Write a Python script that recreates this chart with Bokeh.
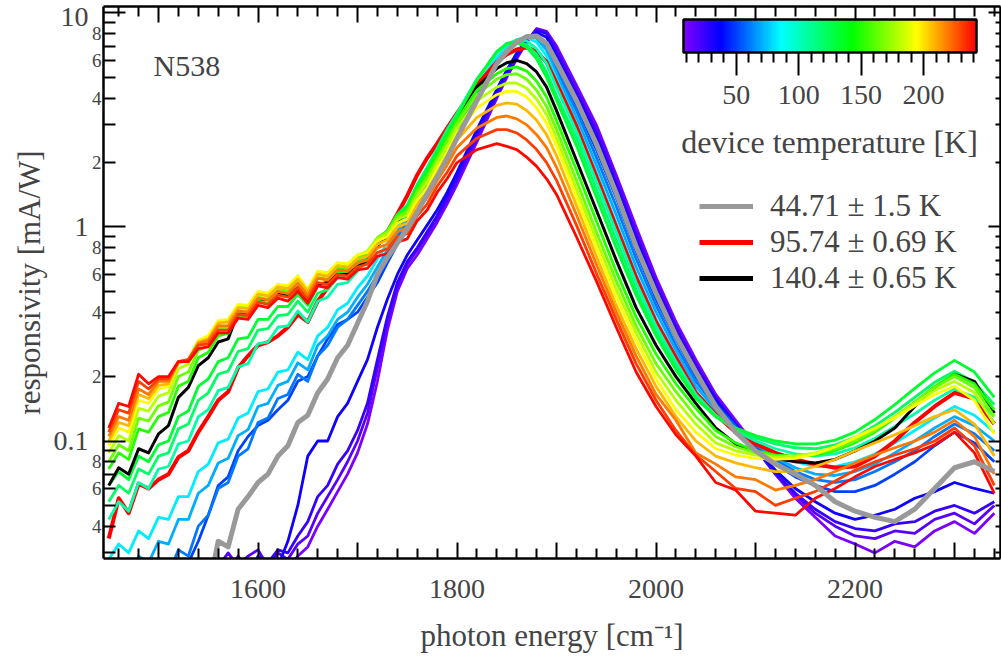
import math
from bokeh.plotting import figure
from bokeh.models import (Range1d, LinearAxis, LogAxis, FixedTicker, CustomJSTickFormatter,
                          ColorBar, LinearColorMapper, Legend, LegendItem, Label)
from bokeh.embed import file_html
from bokeh.resources import INLINE

# photon energy grid [cm^-1]
wavenumber = [1450, 1460, 1470, 1480, 1490, 1500, 1510, 1520, 1530, 1540,
              1550, 1560, 1570, 1580, 1590, 1600, 1610, 1620, 1630, 1640,
              1650, 1660, 1670, 1680, 1690, 1700, 1710, 1720, 1730, 1740,
              1750, 1760, 1770, 1780, 1790,
              1800, 1820, 1840, 1850, 1860, 1870, 1880, 1890, 1900,
              1920, 1940, 1960, 1980, 2000, 2020, 2040,
              2060, 2080, 2100, 2120, 2140, 2160, 2180, 2200, 2220, 2240,
              2260, 2280, 2300, 2320, 2340]

# responsivity [mA/W] (0.02 = below the visible range)
resp_9K = [0.02, 0.02, 0.02, 0.02, 0.02, 0.02, 0.02, 0.02, 0.02, 0.02, 0.02, 0.02,
           0.024, 0.029, 0.025, 0.027, 0.024, 0.026, 0.025, 0.029, 0.032, 0.04, 0.048,
           0.058, 0.07, 0.088, 0.12, 0.19, 0.33, 0.5, 0.64, 0.74, 0.88, 1.05, 1.28,
           1.58, 2.5, 4.0, 5.0, 6.1, 7.3, 8.45, 8.2, 7.0,
           4.6, 3.0, 1.75, 1.0, 0.58, 0.36, 0.24,
           0.165, 0.125, 0.095, 0.07, 0.054, 0.044, 0.036, 0.033, 0.03, 0.034, 0.032,
           0.038, 0.042, 0.037, 0.046]
resp_17K = [0.02, 0.02, 0.02, 0.02, 0.02, 0.02, 0.02, 0.02, 0.02, 0.02, 0.02,
            0.026, 0.03, 0.026, 0.029, 0.031, 0.026, 0.03, 0.028, 0.033, 0.036, 0.046,
            0.055, 0.066, 0.08, 0.1, 0.135, 0.22, 0.36, 0.53, 0.67, 0.78, 0.92, 1.1, 1.33,
            1.64, 2.6, 4.1, 5.1, 6.2, 7.4, 8.4, 8.1, 6.8,
            4.4, 2.85, 1.67, 0.95, 0.555, 0.345, 0.23,
            0.16, 0.12, 0.092, 0.07, 0.056, 0.046, 0.04, 0.036, 0.035, 0.038, 0.037,
            0.043, 0.046, 0.041, 0.05]
resp_25K = [0.02, 0.02, 0.02, 0.02, 0.02, 0.02, 0.02, 0.02, 0.02, 0.02, 0.02, 0.02, 0.02,
            0.027, 0.024, 0.029, 0.027, 0.031, 0.03, 0.036, 0.042, 0.055, 0.062, 0.078,
            0.09, 0.112, 0.15, 0.24, 0.38, 0.55, 0.69, 0.8, 0.95, 1.13, 1.38,
            1.7, 2.7, 4.2, 5.2, 6.3, 7.4, 8.3, 8.0, 6.5,
            4.25, 2.75, 1.6, 0.91, 0.53, 0.335, 0.225,
            0.158, 0.12, 0.092, 0.071, 0.057, 0.048, 0.042, 0.039, 0.038, 0.041, 0.042,
            0.047, 0.05, 0.046, 0.052]
resp_34K = [0.02, 0.02, 0.02, 0.02, 0.02, 0.02, 0.02, 0.02, 0.02, 0.02, 0.02, 0.02,
            0.02, 0.02, 0.02, 0.02, 0.02,
            0.026, 0.034, 0.05, 0.085, 0.1, 0.1, 0.13, 0.15, 0.19, 0.24, 0.34, 0.46,
            0.6, 0.74, 0.87, 1.02, 1.2, 1.45,
            1.8, 2.85, 4.4, 5.4, 6.5, 7.5, 8.1, 7.7, 6.2,
            4.05, 2.6, 1.52, 0.86, 0.51, 0.32, 0.215,
            0.155, 0.118, 0.092, 0.073, 0.06, 0.052, 0.046, 0.043, 0.045, 0.048, 0.054,
            0.058, 0.064, 0.06, 0.057]
resp_44K = [0.02, 0.02, 0.02, 0.02, 0.02, 0.02, 0.02, 0.02, 0.02, 0.02, 0.02,
            0.034, 0.032, 0.048, 0.055, 0.064, 0.07, 0.085, 0.095, 0.122, 0.132, 0.168,
            0.195, 0.245, 0.28, 0.355, 0.45, 0.6, 0.72, 0.84, 0.98, 1.17, 1.43, 1.72, 2.1,
            2.6, 3.9, 5.8, 6.6, 7.3, 7.75, 7.8, 7.2, 5.9,
            3.9, 2.45, 1.44, 0.81, 0.49, 0.31, 0.21,
            0.145, 0.11, 0.09, 0.078, 0.07, 0.062, 0.052, 0.047, 0.044, 0.042, 0.048,
            0.06, 0.075, 0.08, 0.072]
resp_50K = [0.02, 0.02, 0.02, 0.02, 0.02, 0.02, 0.02,
            0.024, 0.027, 0.034, 0.045, 0.062, 0.068, 0.09, 0.105, 0.118, 0.125, 0.14,
            0.155, 0.19, 0.2, 0.25, 0.3, 0.35, 0.37, 0.4, 0.47, 0.55, 0.68, 0.83, 1.0,
            1.2, 1.45, 1.75, 2.15,
            2.7, 4.0, 5.8, 6.6, 7.3, 7.8, 7.9, 7.1, 5.6,
            3.7, 2.3, 1.37, 0.77, 0.46, 0.3, 0.2,
            0.15, 0.118, 0.095, 0.078, 0.068, 0.062, 0.058, 0.058, 0.062, 0.07, 0.08,
            0.095, 0.11, 0.098, 0.08]
resp_60K = [0.02, 0.02, 0.02, 0.02, 0.02,
            0.022, 0.024, 0.031, 0.029, 0.04, 0.045, 0.06, 0.064, 0.085, 0.092, 0.122,
            0.128, 0.158, 0.165, 0.205, 0.19, 0.25, 0.28, 0.34, 0.37, 0.43, 0.5, 0.6,
            0.73, 0.9, 1.06, 1.3, 1.58, 1.92, 2.35,
            2.9, 4.2, 5.9, 6.7, 7.3, 7.8, 7.7, 6.9, 5.4,
            3.5, 2.12, 1.25, 0.71, 0.43, 0.28, 0.19,
            0.145, 0.116, 0.096, 0.082, 0.072, 0.066, 0.064, 0.066, 0.072, 0.08, 0.09,
            0.105, 0.12, 0.108, 0.09]
resp_70K = [0.02, 0.024, 0.022, 0.029, 0.027, 0.034, 0.033, 0.043, 0.043, 0.057,
            0.062, 0.079, 0.083, 0.106, 0.113, 0.145, 0.15, 0.182, 0.19, 0.232,
            0.215, 0.28, 0.31, 0.37, 0.4, 0.47, 0.54, 0.65, 0.78, 0.95,
            1.12, 1.37, 1.66, 2.03, 2.5,
            3.05, 4.4, 6.0, 6.8, 7.4, 7.8, 7.6, 6.7, 5.2,
            3.25, 1.95, 1.14, 0.65, 0.4, 0.265, 0.18,
            0.14, 0.114, 0.097, 0.084, 0.075, 0.07, 0.069, 0.072, 0.078, 0.088, 0.1,
            0.115, 0.13, 0.118, 0.1]
resp_82K = [0.028, 0.033, 0.03, 0.038, 0.035, 0.044, 0.043, 0.055, 0.055, 0.072,
            0.078, 0.098, 0.102, 0.128, 0.135, 0.17, 0.175, 0.21, 0.215, 0.26,
            0.24, 0.31, 0.34, 0.41, 0.44, 0.52, 0.59, 0.71, 0.84, 1.01,
            1.18, 1.45, 1.75, 2.15, 2.65,
            3.2, 4.6, 6.2, 6.9, 7.5, 7.7, 7.3, 6.3, 4.9,
            3.05, 1.8, 1.04, 0.6, 0.37, 0.25, 0.17,
            0.135, 0.112, 0.097, 0.087, 0.08, 0.076, 0.076, 0.08, 0.087, 0.098, 0.112,
            0.128, 0.145, 0.132, 0.11]
resp_96K = [0.035, 0.054, 0.046, 0.063, 0.06, 0.066, 0.07, 0.084, 0.09, 0.11,
            0.13, 0.155, 0.17, 0.22, 0.25, 0.28, 0.29, 0.31, 0.34, 0.39,
            0.36, 0.45, 0.52, 0.6, 0.64, 0.66, 0.72, 0.85, 0.95, 1.15,
            1.4, 1.75, 2.1, 2.45, 2.9,
            3.4, 4.6, 5.9, 6.4, 6.75, 6.9, 6.6, 5.9, 4.7,
            2.95, 1.72, 1.0, 0.58, 0.36, 0.245, 0.168,
            0.133, 0.11, 0.097, 0.088, 0.082, 0.078, 0.075, 0.076, 0.085, 0.1, 0.122,
            0.145, 0.168, 0.158, 0.12]
resp_105K = [0.043, 0.052, 0.047, 0.064, 0.06, 0.074, 0.076, 0.097, 0.1, 0.13,
             0.14, 0.172, 0.178, 0.222, 0.23, 0.285, 0.29, 0.34, 0.345, 0.405,
             0.36, 0.45, 0.47, 0.54, 0.55, 0.62, 0.7, 0.83, 0.95, 1.14,
             1.27, 1.58, 1.9, 2.33, 2.85,
             3.4, 4.9, 6.5, 7.1, 7.5, 7.4, 6.8, 5.8, 4.5,
             2.8, 1.64, 0.95, 0.55, 0.345, 0.235, 0.165,
             0.132, 0.112, 0.1, 0.092, 0.087, 0.085, 0.087, 0.093, 0.103, 0.117, 0.134,
             0.155, 0.175, 0.16, 0.13]
resp_120K = [0.052, 0.062, 0.057, 0.074, 0.07, 0.085, 0.088, 0.114, 0.12, 0.155,
             0.168, 0.205, 0.212, 0.262, 0.27, 0.33, 0.335, 0.385, 0.39, 0.45,
             0.4, 0.49, 0.51, 0.58, 0.59, 0.66, 0.73, 0.86, 0.96, 1.14,
             1.26, 1.57, 1.88, 2.3, 2.8,
             3.35, 4.9, 6.6, 7.2, 7.4, 7.1, 6.4, 5.3, 4.1,
             2.6, 1.5, 0.87, 0.51, 0.325, 0.225, 0.16,
             0.13, 0.113, 0.103, 0.097, 0.093, 0.092, 0.096, 0.104, 0.118, 0.136, 0.16,
             0.188, 0.212, 0.188, 0.148]
resp_132K = [0.062, 0.072, 0.066, 0.085, 0.08, 0.096, 0.1, 0.13, 0.138, 0.18,
             0.195, 0.235, 0.245, 0.3, 0.305, 0.37, 0.37, 0.425, 0.425, 0.485,
             0.43, 0.53, 0.54, 0.61, 0.62, 0.69, 0.75, 0.87, 0.96, 1.13,
             1.24, 1.55, 1.85, 2.25, 2.75,
             3.3, 4.85, 6.6, 7.2, 7.25, 6.9, 6.1, 5.0, 3.9,
             2.4, 1.38, 0.8, 0.48, 0.31, 0.215, 0.158,
             0.13, 0.115, 0.106, 0.1, 0.097, 0.097, 0.101, 0.11, 0.126, 0.148, 0.176,
             0.208, 0.238, 0.21, 0.16]
resp_140K = [0.062, 0.075, 0.07, 0.092, 0.088, 0.108, 0.118, 0.16, 0.178, 0.225,
             0.245, 0.29, 0.3, 0.4, 0.4, 0.45, 0.46, 0.49, 0.48, 0.52,
             0.45, 0.54, 0.55, 0.6, 0.6, 0.65, 0.7, 0.82, 0.9, 1.07,
             1.16, 1.45, 1.72, 2.1, 2.55,
             3.1, 4.5, 5.5, 5.85, 6.0, 5.8, 5.3, 4.5, 3.5,
             2.05, 1.2, 0.7, 0.42, 0.28, 0.2, 0.15,
             0.115, 0.097, 0.088, 0.083, 0.08, 0.079, 0.082, 0.09, 0.1, 0.115, 0.145,
             0.178, 0.205, 0.19, 0.135]
resp_150K = [0.074, 0.088, 0.082, 0.114, 0.11, 0.13, 0.136, 0.18, 0.19, 0.245,
             0.26, 0.31, 0.318, 0.385, 0.38, 0.45, 0.44, 0.5, 0.49, 0.55,
             0.47, 0.58, 0.57, 0.64, 0.635, 0.71, 0.76, 0.89, 0.96, 1.13,
             1.21, 1.5, 1.75, 2.15, 2.6,
             3.15, 4.35, 5.2, 5.5, 5.6, 5.35, 4.8, 4.05, 3.15,
             1.85, 1.07, 0.62, 0.38, 0.255, 0.185, 0.142,
             0.112, 0.098, 0.09, 0.086, 0.085, 0.086, 0.09, 0.098, 0.11, 0.128, 0.152,
             0.18, 0.205, 0.185, 0.14]
resp_165K = [0.08, 0.096, 0.09, 0.128, 0.124, 0.146, 0.152, 0.2, 0.21, 0.265,
             0.28, 0.335, 0.34, 0.405, 0.4, 0.47, 0.46, 0.515, 0.505, 0.57,
             0.49, 0.6, 0.59, 0.66, 0.655, 0.73, 0.77, 0.89, 0.95, 1.11,
             1.18, 1.46, 1.7, 2.08, 2.5,
             3.05, 4.15, 4.9, 5.15, 5.2, 4.9, 4.35, 3.65, 2.85,
             1.65, 0.95, 0.56, 0.345, 0.23, 0.17, 0.13,
             0.105, 0.094, 0.088, 0.085, 0.085, 0.087, 0.092, 0.1, 0.112, 0.13, 0.152,
             0.178, 0.2, 0.178, 0.13]
resp_180K = [0.088, 0.106, 0.1, 0.142, 0.138, 0.162, 0.168, 0.218, 0.228, 0.285,
             0.3, 0.355, 0.36, 0.425, 0.42, 0.49, 0.48, 0.535, 0.525, 0.59,
             0.51, 0.62, 0.61, 0.68, 0.67, 0.74, 0.77, 0.88, 0.93, 1.08,
             1.14, 1.4, 1.62, 1.99, 2.38,
             2.9, 3.9, 4.5, 4.7, 4.7, 4.45, 3.95, 3.35, 2.6,
             1.5, 0.87, 0.51, 0.32, 0.21, 0.155, 0.12,
             0.098, 0.09, 0.086, 0.084, 0.085, 0.088, 0.094, 0.103, 0.114, 0.13, 0.15,
             0.172, 0.19, 0.168, 0.12]
resp_195K = [0.095, 0.115, 0.11, 0.155, 0.15, 0.175, 0.18, 0.23, 0.24, 0.295,
             0.31, 0.365, 0.37, 0.435, 0.43, 0.5, 0.49, 0.54, 0.53, 0.59,
             0.51, 0.62, 0.61, 0.68, 0.67, 0.74, 0.76, 0.86, 0.9, 1.04,
             1.09, 1.33, 1.53, 1.88, 2.25,
             2.75, 3.6, 4.15, 4.3, 4.3, 4.05, 3.6, 3.05, 2.4,
             1.38, 0.8, 0.47, 0.295, 0.195, 0.14, 0.11,
             0.092, 0.086, 0.083, 0.082, 0.083, 0.087, 0.094, 0.104, 0.115, 0.128, 0.146,
             0.165, 0.18, 0.155, 0.108]
resp_208K = [0.1, 0.122, 0.118, 0.165, 0.158, 0.182, 0.185, 0.232, 0.24, 0.29,
             0.3, 0.355, 0.36, 0.42, 0.415, 0.485, 0.475, 0.525, 0.515, 0.57,
             0.5, 0.6, 0.59, 0.66, 0.645, 0.71, 0.73, 0.83, 0.87, 1.0,
             1.04, 1.27, 1.45, 1.77, 2.1,
             2.55, 3.25, 3.7, 3.8, 3.75, 3.5, 3.15, 2.7, 2.15,
             1.26, 0.73, 0.43, 0.27, 0.18, 0.13, 0.1,
             0.085, 0.079, 0.075, 0.072, 0.072, 0.076, 0.082, 0.09, 0.098, 0.107, 0.118,
             0.13, 0.14, 0.12, 0.085]
resp_220K = [0.105, 0.13, 0.125, 0.175, 0.165, 0.19, 0.19, 0.235, 0.24, 0.285,
             0.295, 0.345, 0.345, 0.405, 0.4, 0.465, 0.455, 0.5, 0.49, 0.545,
             0.48, 0.575, 0.565, 0.63, 0.62, 0.68, 0.7, 0.8, 0.83, 0.95,
             0.99, 1.2, 1.37, 1.65, 1.95,
             2.35, 2.9, 3.25, 3.3, 3.2, 3.0, 2.7, 2.35, 1.9,
             1.14, 0.67, 0.4, 0.25, 0.165, 0.125, 0.088,
             0.078, 0.068, 0.066, 0.059, 0.062, 0.066, 0.072, 0.079, 0.086, 0.093, 0.1,
             0.11, 0.125, 0.105, 0.07]
resp_231K = [0.11, 0.14, 0.135, 0.19, 0.175, 0.195, 0.195, 0.235, 0.24, 0.28,
             0.285, 0.33, 0.33, 0.39, 0.385, 0.445, 0.435, 0.48, 0.47, 0.52,
             0.46, 0.55, 0.54, 0.6, 0.59, 0.65, 0.67, 0.76, 0.79, 0.9,
             0.93, 1.13, 1.28, 1.55, 1.8,
             2.15, 2.6, 2.85, 2.85, 2.75, 2.55, 2.3, 2.0, 1.65,
             1.02, 0.61, 0.37, 0.23, 0.155, 0.112, 0.086,
             0.072, 0.06, 0.058, 0.05, 0.054, 0.058, 0.065, 0.073, 0.08, 0.086, 0.092,
             0.1, 0.115, 0.095, 0.062]
resp_241K = [0.115, 0.15, 0.145, 0.205, 0.185, 0.2, 0.2, 0.235, 0.235, 0.27,
             0.275, 0.32, 0.32, 0.375, 0.37, 0.43, 0.42, 0.465, 0.45, 0.5,
             0.44, 0.53, 0.52, 0.58, 0.57, 0.63, 0.64, 0.73, 0.75, 0.85,
             0.88, 1.07, 1.2, 1.45, 1.68,
             2.0, 2.3, 2.45, 2.38, 2.3, 2.12, 1.92, 1.68, 1.42,
             0.9, 0.56, 0.34, 0.21, 0.145, 0.107, 0.085,
             0.064, 0.059, 0.047, 0.046, 0.045, 0.054, 0.06, 0.068, 0.076, 0.082, 0.088,
             0.096, 0.11, 0.088, 0.057]

# rainbow-coloured sweep (temperature [K], spectrum)
sweep_temperatures = [9, 17, 25, 34, 50, 60, 70, 82, 105, 120, 132, 150, 165, 180, 195, 208, 220, 231, 241]
sweep_spectra = [resp_9K, resp_17K, resp_25K, resp_34K, resp_50K, resp_60K, resp_70K, resp_82K,
                 resp_105K, resp_120K, resp_132K, resp_150K, resp_165K, resp_180K, resp_195K,
                 resp_208K, resp_220K, resp_231K, resp_241K]

# highlighted measurements
highlight_labels = ["44.71 \u00b1 1.5 K", "95.74 \u00b1 0.69 K", "140.4 \u00b1 0.65 K"]
highlight_temperatures = [44.71, 95.74, 140.4]
highlight_spectra = [resp_44K, resp_96K, resp_140K]
highlight_colors = ["#999999", "#ff0000", "#000000"]
highlight_widths = [5, 4, 3]

# axis ticks
x_major = [1500, 1600, 1700, 1800, 1900, 2000, 2100, 2200, 2300]
x_minor = [1460, 1480, 1520, 1540, 1560, 1580, 1620, 1640, 1660, 1680, 1720, 1740, 1760,
           1780, 1820, 1840, 1860, 1880, 1920, 1940, 1960, 1980, 2020, 2040, 2060, 2080,
           2120, 2140, 2160, 2180, 2220, 2240, 2260, 2280, 2320, 2340]
y_decades = [0.1, 1, 10]
y_decade_label_at = [0.1, 1, 9.55]      # the "10" sits just below the frame top
y_minor_labelled = [0.04, 0.06, 0.08, 0.2, 0.4, 0.6, 0.8, 2, 4, 6, 8]
y_minor = [0.03, 0.04, 0.05, 0.06, 0.07, 0.08, 0.09, 0.2, 0.3, 0.4, 0.5, 0.6, 0.7,
           0.8, 0.9, 2, 3, 4, 5, 6, 7, 8, 9]
colorbar_ticks = [50, 100, 150, 200]
colorbar_minor = [10, 20, 30, 40, 60, 70, 80, 90, 110, 120, 130, 140, 160, 170, 180, 190,
                  210, 220, 230, 240]
T_LOW, T_HIGH = 7.8, 242.4

for s in sweep_spectra + highlight_spectra:
    assert len(s) == len(wavenumber), len(s)

STOPS = [(0.0, (128, 0, 255)), (0.126, (0, 0, 255)), (0.331, (0, 255, 255)),
         (0.577, (0, 255, 0)), (0.797, (255, 255, 0)), (1.0, (255, 0, 0))]


def rainbow(f):
    f = min(max(f, 0.0), 1.0)
    for (f0, c0), (f1, c1) in zip(STOPS[:-1], STOPS[1:]):
        if f <= f1:
            t = (f - f0) / (f1 - f0)
            r, g, b = (round(a + (bb - a) * t) for a, bb in zip(c0, c1))
            return "#%02x%02x%02x" % (r, g, b)
    return "#ff0000"


def t_color(T):
    return rainbow((T - T_LOW) / (T_HIGH - T_LOW))


palette = [rainbow(i / 255) for i in range(256)]

FONT = "Liberation Serif"
X0, X1 = 1444.7, 2346.2
Y0, Y1 = 0.02825, 10.72
PX_PER_X = 897 / (X1 - X0)
PX_PER_DEC = 552 / (math.log10(Y1) - math.log10(Y0))


def sx(px):   # page x -> data x
    return X0 + (px - 103) / PX_PER_X


def sy(py):   # page y -> data y
    return 10 ** (math.log10(Y1) - (py - 6) / PX_PER_DEC)


p = figure(frame_width=897, frame_height=552, x_range=Range1d(X0, X1),
           y_range=Range1d(Y0, Y1), y_axis_type="log",
           output_backend="svg", toolbar_location=None,
           min_border_left=103, min_border_right=1, min_border_top=6, min_border_bottom=99,
           background_fill_color="white", border_fill_color="white")
p.outline_line_color = None
p.xgrid.visible = False
p.ygrid.visible = False

# draw the sweep in order of temperature, the highlighted red/black among them, grey on top
order = [(T, s, t_color(T), 2.8) for T, s in zip(sweep_temperatures, sweep_spectra)]
order += [(highlight_temperatures[1], highlight_spectra[1], highlight_colors[1], highlight_widths[1]),
          (highlight_temperatures[2], highlight_spectra[2], highlight_colors[2], highlight_widths[2])]
order.sort(key=lambda r: r[0])
for T, s, c, w in order:
    p.line(wavenumber, s, line_color=c, line_width=w, line_join="round")
p.line(wavenumber, highlight_spectra[0], line_color=highlight_colors[0],
       line_width=highlight_widths[0], line_join="round")

blank = CustomJSTickFormatter(code="return '';")

# ---- x axes
xa = p.xaxis[0]
xa.ticker = FixedTicker(ticks=x_major, minor_ticks=x_minor)
xa.formatter = CustomJSTickFormatter(
    code="return (Math.round(tick) % 200 === 0) ? String(Math.round(tick)) : '';")
xa.major_label_standoff = 21
xa.major_label_text_font = FONT
xa.major_label_text_font_size = "28px"
xa.axis_label = "photon energy [cm\u207b\u00b9]"
xa.axis_label_text_font = FONT
xa.axis_label_text_font_size = "31px"
xa.axis_label_text_font_style = "normal"
xa.axis_label_standoff = 17

top = LinearAxis(ticker=FixedTicker(ticks=x_major, minor_ticks=x_minor), formatter=blank,
                 major_label_standoff=0, major_label_text_font_size="0px")
p.add_layout(top, "above")

# ---- y axes: inner one draws the ticks, two outer ones carry the labels
ya = p.yaxis[0]
ya.ticker = FixedTicker(ticks=y_decades, minor_ticks=y_minor)
ya.formatter = blank
ya.major_label_standoff = 0
ya.major_label_text_font_size = "0px"

ymid = LogAxis(ticker=FixedTicker(ticks=y_minor_labelled, minor_ticks=[]),
               formatter=CustomJSTickFormatter(
                   code="const e = Math.floor(Math.log10(tick) + 1e-9); return String(Math.round(tick / Math.pow(10, e)));"),
               axis_line_color=None, major_tick_line_color=None, minor_tick_line_color=None,
               major_tick_in=0, major_tick_out=0, minor_tick_in=0, minor_tick_out=0,
               major_label_standoff=2, major_label_text_font=FONT,
               major_label_text_font_size="19px")
p.add_layout(ymid, "left")

yout = LogAxis(ticker=FixedTicker(ticks=y_decade_label_at, minor_ticks=[]),
               formatter=CustomJSTickFormatter(
                   code="return tick < 0.5 ? '0.1' : (tick < 5 ? '1' : '10');"),
               axis_line_color=None, major_tick_line_color=None, minor_tick_line_color=None,
               major_tick_in=0, major_tick_out=0, minor_tick_in=0, minor_tick_out=0,
               major_label_standoff=0, major_label_text_font=FONT,
               major_label_text_font_size="28px",
               axis_label="responsivity [mA/W]", axis_label_text_font=FONT,
               axis_label_text_font_size="31px", axis_label_text_font_style="normal",
               axis_label_standoff=4)
p.add_layout(yout, "left")

right = LogAxis(ticker=FixedTicker(ticks=y_decades, minor_ticks=y_minor), formatter=blank,
                major_label_standoff=0, major_label_text_font_size="0px")
p.add_layout(right, "right")

for ax, mj, mn in [(xa, 16, 10), (top, 16, 10), (ya, 22, 12), (right, 12, 5)]:
    ax.axis_line_width = 2.5
    ax.axis_line_color = "black"
    ax.major_tick_in = mj
    ax.major_tick_out = 0
    ax.minor_tick_in = mn
    ax.minor_tick_out = 0
    ax.major_tick_line_width = 2
    ax.minor_tick_line_width = 2
    ax.major_tick_line_color = "black"
    ax.minor_tick_line_color = "black"

# ---- colour bar
mapper = LinearColorMapper(palette=palette, low=T_LOW, high=T_HIGH)
cb = ColorBar(color_mapper=mapper, orientation="horizontal", width=293, height=33,
              location=(580, 452), padding=0, margin=0,
              ticker=FixedTicker(ticks=colorbar_ticks, minor_ticks=colorbar_minor),
              major_tick_in=0, major_tick_out=23, minor_tick_in=0, minor_tick_out=10,
              major_tick_line_color="black", minor_tick_line_color="black",
              major_tick_line_width=2, minor_tick_line_width=2,
              bar_line_color="black", bar_line_width=2.5,
              major_label_text_font=FONT, major_label_text_font_size="28px",
              label_standoff=10, background_fill_alpha=0, border_line_color=None)
p.add_layout(cb)

p.add_layout(Label(x=sx(829), y=sy(141.5), text="device temperature [K]", text_align="center",
                   text_baseline="middle", text_font=FONT, text_font_size="32px"))
p.add_layout(Label(x=sx(153), y=sy(65), text="N538", text_align="left",
                   text_baseline="middle", text_font=FONT, text_font_size="30px"))

# ---- legend (proxies carry the legend line widths)
nan = float("nan")
proxies = [p.line(x=[nan], y=[nan], line_color=c, line_width=5) for c in highlight_colors]
legend = Legend(items=[LegendItem(label=l, renderers=[r]) for l, r in zip(highlight_labels, proxies)],
                location=(596, 262), glyph_width=54, glyph_height=30, label_height=30,
                spacing=0, padding=0, margin=0, label_standoff=17,
                border_line_color=None, background_fill_alpha=0,
                label_text_font=FONT, label_text_font_size="31px")
p.add_layout(legend)

open("out.html", "w").write(file_html(p, INLINE))
